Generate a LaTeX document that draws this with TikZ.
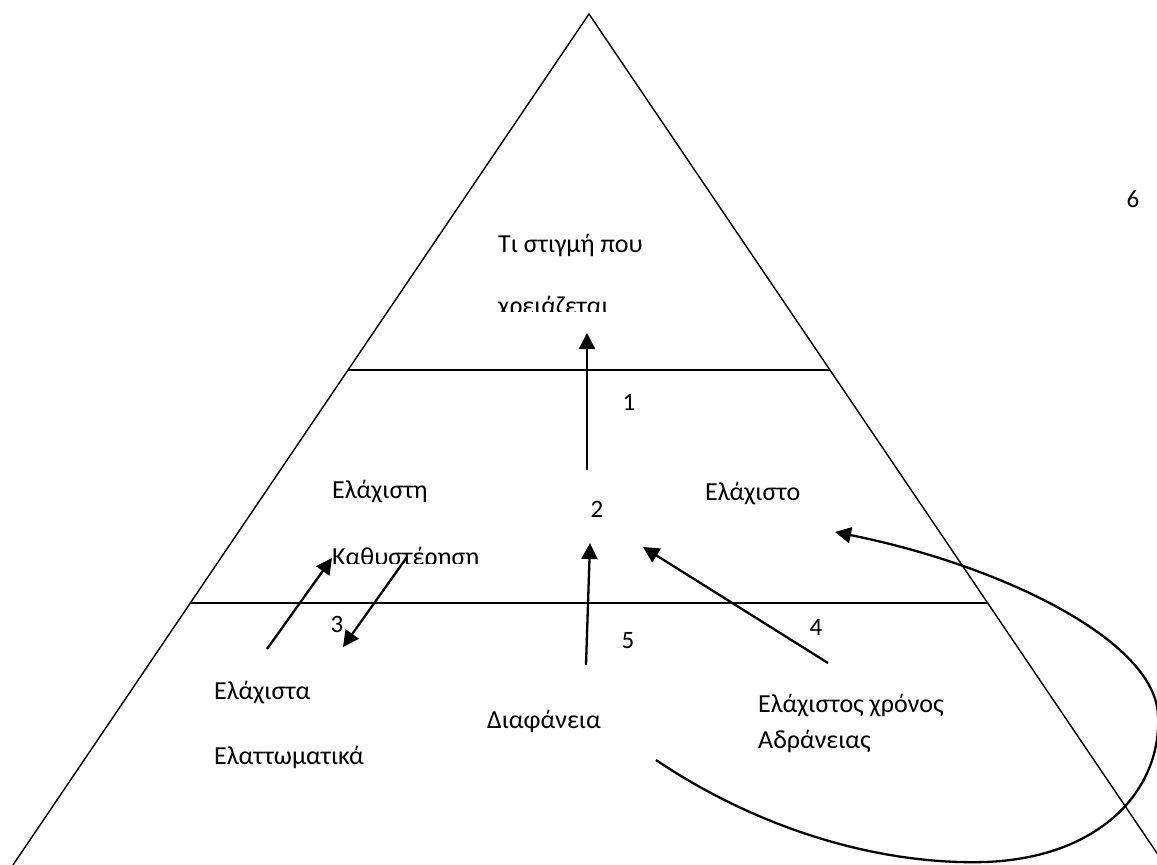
\documentclass[tikz,border=0pt]{standalone}
\usepackage{fontspec}
\setmainfont{Carlito}
\usetikzlibrary{arrows.meta,calc}

\begin{document}
\begin{tikzpicture}[x=1pt, y=-1pt,
	lbl/.style = {anchor=base west, inner sep=0pt, font=\fontsize{26}{30}\selectfont},
	num/.style = {anchor=base, inner sep=0pt, font=\fontsize{25}{29}\selectfont},
	edge/.style = {line width=1.4pt},
	arr/.style = {line width=2.3pt, -{Triangle[length=16pt,width=16pt]}}]
	\clip (0,0) rectangle (1157,865);
	% pyramid
	\coordinate (top) at (589,14);
	\coordinate (bl) at (13,865);
	\coordinate (br) at (1165,865);
	\draw[edge] (bl) -- (top) -- (br);
	\draw[edge] ($(top)!0.4183!(bl)$) -- ($(top)!0.4183!(br)$);
	\draw[edge] ($(top)!0.6921!(bl)$) -- ($(top)!0.6921!(br)$);
	% texts
	\node[lbl] (moment) at (498,252) {Τι στιγμή που};
	\begin{scope}
		\clip (480,280) rectangle (700,311);
		\node[lbl] (needed) at (498,314) {χρειάζεται};
	\end{scope}
	\node[lbl] (mindelay) at (332,498) {Ελάχιστη};
	\begin{scope}
		\clip (320,530) rectangle (500,563);
		\node[lbl] (delay) at (332,565) {Καθυστέρηση};
	\end{scope}
	\node[lbl] (mincost) at (705,500) {Ελάχιστο};
	\node[lbl] (minfault) at (214,699) {Ελάχιστα};
	\node[lbl] (fault) at (214,764) {Ελαττωματικά};
	\node[lbl] (clear) at (487,728) {Διαφάνεια};
	\node[lbl] (mintime) at (758,712) {Ελάχιστος χρόνος};
	\node[lbl] (idle) at (758,748) {Αδράνειας};
	% numbers
	\node[num] (n1) at (629,410) {1};
	\node[num] (n2) at (597,517) {2};
	\node[num] (n3) at (337,632) {3};
	\node[num] (n4) at (816,635) {4};
	\node[num] (n5) at (628,648) {5};
	\node[num] (n6) at (1133,207) {6};
	% arrows
	\coordinate (a1s) at (587,470);
	\coordinate (a1e) at (587,333);
	\coordinate (a5s) at (586,665);
	\coordinate (a5e) at (590,543);
	\coordinate (a3s) at (267,649);
	\coordinate (a3e) at (332,558);
	\coordinate (b3s) at (407,557);
	\coordinate (b3e) at (343,647);
	\coordinate (a4s) at (828,663);
	\coordinate (a4e) at (643,547);
	\coordinate (c6s) at (656,760);
	\coordinate (c6e) at (835,532);
	\draw[arr] (a1s) -- (a1e);
	\draw[arr] (a5s) -- (a5e);
	\draw[arr] (a3s) -- (a3e);
	\draw[arr] (b3s) -- (b3e);
	\draw[arr] (a4s) -- (a4e);
	\draw[arr] (c6s) .. controls (760,830) and (880,865) .. (985,862) .. controls (1100,858) and (1162,790) .. (1158,715) .. controls (1155,640) and (1000,565) .. (c6e);
\end{tikzpicture}
\end{document}
